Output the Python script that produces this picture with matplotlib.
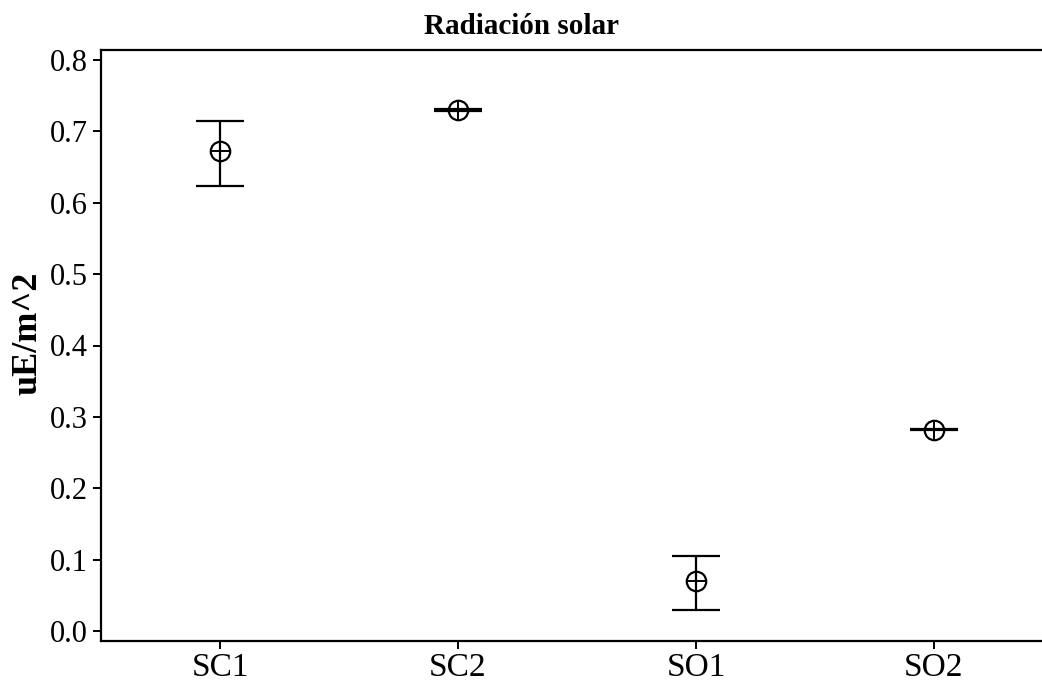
import matplotlib.pyplot as plt
import numpy as np

plt.rcParams["font.family"] = ["Liberation Serif", "DejaVu Serif"]

sites = ["SC1", "SC2", "SO1", "SO2"]
means = [0.672, 0.730, 0.070, 0.282]
upper = [0.714, 0.731, 0.105, 0.283]
lower = [0.623, 0.729, 0.029, 0.281]

means = np.array(means)
yerr = [means - np.array(lower), np.array(upper) - means]
x = np.arange(len(sites))

fig = plt.figure(figsize=(10.42, 6.83), dpi=100)
ax = fig.add_axes([101 / 1042, 1 - 641 / 683, 952 / 1042, 591 / 683])

ax.errorbar(x, means, yerr=yerr, fmt="none", ecolor="black",
            elinewidth=1.6, capsize=17, capthick=1.6)
ax.plot(x, means, "o", ms=14, mfc="none", mec="black", mew=1.6)
ax.plot(x, means, "+", ms=14, color="black", mew=1.4)

ax.set_xlim(-0.5, 3.5)
ax.set_ylim(-0.014, 0.814)
ax.set_xticks(x, labels=sites)
ax.set_yticks(np.arange(0, 0.81, 0.1))
ax.yaxis.set_major_formatter(plt.FormatStrFormatter("%.1f"))

ax.spines["right"].set_visible(False)
for s in ["left", "bottom", "top"]:
    ax.spines[s].set_linewidth(1.6)
ax.tick_params(length=6, width=1.4, direction="out")
ax.tick_params(axis="x", labelsize=24, pad=2)
ax.tick_params(axis="y", labelsize=22)

fig.text(0.5, 1 - 26 / 683, "Radiación solar", fontsize=21,
         fontweight="bold", ha="center", va="center")
ax.set_ylabel("uE/m^2", fontsize=26, fontweight="bold")
ax.yaxis.set_label_coords(-0.059, 0.52)

fig.savefig("out.png", dpi=100)
